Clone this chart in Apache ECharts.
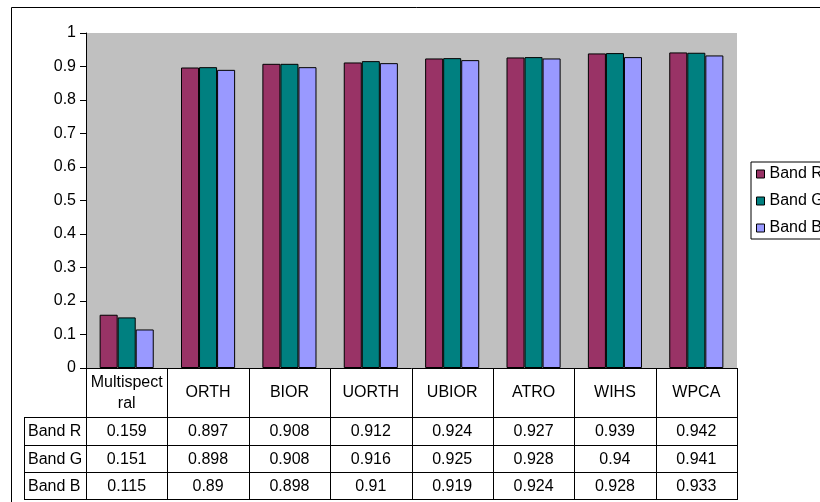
<!DOCTYPE html>
<html>
<head>
<meta charset="utf-8">
<script src="https://cdn.jsdelivr.net/npm/echarts@6/dist/echarts.min.js"></script>
<style>
  html, body { margin: 0; padding: 0; background: #fff; }
  #chart { width: 820px; height: 502px; }
</style>
</head>
<body>
<div id="chart"></div>
<script>
// Categories (methods) and their header text in the data table
const categories = ['Multispectral', 'ORTH', 'BIOR', 'UORTH', 'UBIOR', 'ATRO', 'WIHS', 'WPCA'];
const headerLabels = ['Multispect\nral', 'ORTH', 'BIOR', 'UORTH', 'UBIOR', 'ATRO', 'WIHS', 'WPCA'];

// Values per band
const seriesNames = ['Band R', 'Band G', 'Band B'];
const bandR = [0.159, 0.897, 0.908, 0.912, 0.924, 0.927, 0.939, 0.942];
const bandG = [0.151, 0.898, 0.908, 0.916, 0.925, 0.928, 0.94, 0.941];
const bandB = [0.115, 0.89, 0.898, 0.91, 0.919, 0.924, 0.928, 0.933];
const bandValues = [bandR, bandG, bandB];

const colors = ['#993366', '#008080', '#9999FF'];
const FONT = 'Liberation Sans, Arial, sans-serif';
const FS = 16;

// Plot geometry
const G = { left: 86, top: 33, width: 651, height: 335 };
const bottom = G.top + G.height;           // x axis line
const colW = G.width / categories.length;
const tableLeft = 24;
const headerBottom = 417;
const rowLines = [headerBottom, 445, 472, 499];

const chart = echarts.init(document.getElementById('chart'), null, { renderer: 'canvas' });

const graphics = [];
// outer chart frame
graphics.push({
  type: 'rect', shape: { x: 11.5, y: 7.5, width: 900, height: 520 },
  style: { fill: null, stroke: '#000', lineWidth: 1 }, z: 0, silent: true
});
// table vertical lines at category boundaries
for (let k = 0; k <= categories.length; k++) {
  const x = Math.round(G.left + k * colW) + 0.5;
  graphics.push({ type: 'line', shape: { x1: x, y1: bottom, x2: x, y2: rowLines[3] },
    style: { stroke: '#000', lineWidth: 1 }, z: 10, silent: true });
}
// row label column left edge
graphics.push({ type: 'line', shape: { x1: tableLeft + 0.5, y1: headerBottom, x2: tableLeft + 0.5, y2: rowLines[3] },
  style: { stroke: '#000', lineWidth: 1 }, z: 10, silent: true });
// horizontal table lines
rowLines.forEach(y => {
  graphics.push({ type: 'line', shape: { x1: tableLeft, y1: y + 0.5, x2: G.left + G.width + 1, y2: y + 0.5 },
    style: { stroke: '#000', lineWidth: 1 }, z: 10, silent: true });
});
// header texts
headerLabels.forEach((lab, i) => {
  graphics.push({ type: 'text', x: G.left + (i + 0.5) * colW, y: (bottom + headerBottom) / 2 + 0.5,
    style: { text: lab, font: FS + 'px ' + FONT, fill: '#000', align: 'center', verticalAlign: 'middle', lineHeight: 21 },
    z: 11, silent: true });
});
// body rows
seriesNames.forEach((name, r) => {
  const yc = (rowLines[r] + rowLines[r + 1]) / 2 + 1;
  graphics.push({ type: 'text', x: tableLeft + 4, y: yc,
    style: { text: name, font: FS + 'px ' + FONT, fill: '#000', align: 'left', verticalAlign: 'middle' },
    z: 11, silent: true });
  bandValues[r].forEach((v, i) => {
    graphics.push({ type: 'text', x: G.left + (i + 0.5) * colW, y: yc,
      style: { text: String(v), font: FS + 'px ' + FONT, fill: '#000', align: 'center', verticalAlign: 'middle' },
      z: 11, silent: true });
  });
});

chart.setOption({
  animation: false,
  backgroundColor: '#fff',
  textStyle: { fontFamily: FONT },
  grid: { left: G.left, top: G.top, width: G.width, height: G.height,
    show: true, backgroundColor: '#C0C0C0', borderWidth: 0 },
  legend: {
    orient: 'vertical', left: 751, top: 162,
    data: seriesNames,
    icon: 'rect', itemWidth: 8, itemHeight: 8, itemGap: 11,
    padding: [4, 40, 3, 5],
    backgroundColor: '#fff', borderColor: '#000', borderWidth: 1, borderRadius: 0,
    textStyle: { fontSize: FS, color: '#000', fontFamily: FONT },
    itemStyle: { borderColor: '#000', borderWidth: 1 }
  },
  xAxis: {
    type: 'category', data: categories,
    axisLine: { lineStyle: { color: '#000', width: 1 } },
    axisTick: { show: false }, axisLabel: { show: false }, splitLine: { show: false }
  },
  yAxis: {
    type: 'value', min: 0, max: 1, interval: 0.1,
    axisLine: { show: true, lineStyle: { color: '#000', width: 1 } },
    axisTick: { show: true, length: 6, lineStyle: { color: '#000' } },
    axisLabel: { fontSize: FS, color: '#000', margin: 10, fontFamily: FONT },
    splitLine: { show: false }
  },
  series: seriesNames.map((name, s) => ({
    name, type: 'bar', data: bandValues[s],
    barGap: '0%', barCategoryGap: '33.5%',
    itemStyle: { color: colors[s], borderColor: '#000', borderWidth: 1 }
  })),
  graphic: graphics
});
</script>
</body>
</html>
